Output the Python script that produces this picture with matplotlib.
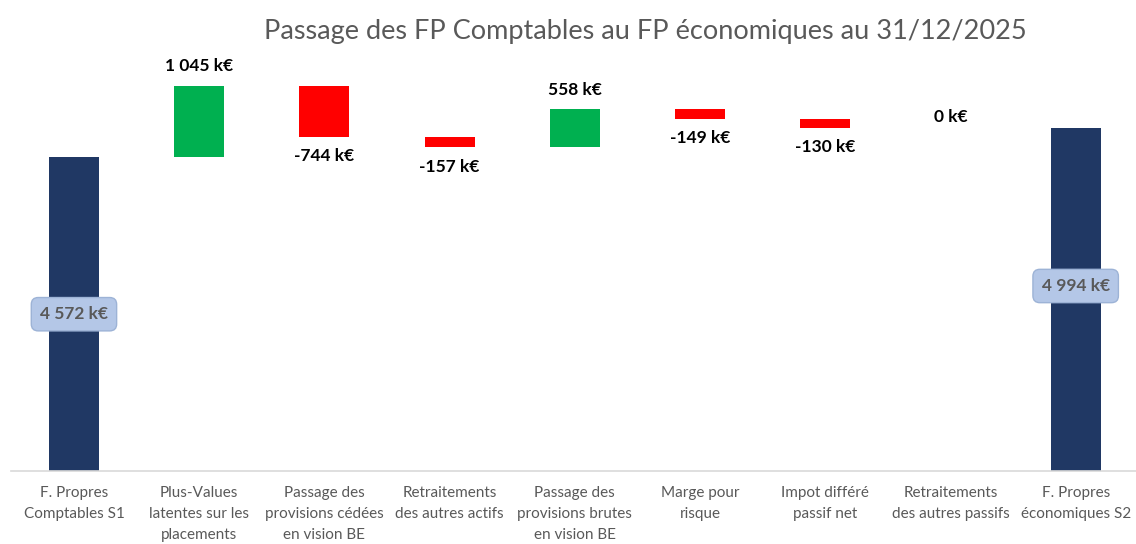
import matplotlib.pyplot as plt
import numpy as np

plt.rcParams["font.family"] = ["Lato", "DejaVu Sans"]

categories = [
    "F. Propres\nComptables S1",
    "Plus-Values\nlatentes sur les\nplacements",
    "Passage des\nprovisions cédées\nen vision BE",
    "Retraitements\ndes autres actifs",
    "Passage des\nprovisions brutes\nen vision BE",
    "Marge pour\nrisque",
    "Impot différé\npassif net",
    "Retraitements\ndes autres passifs",
    "F. Propres\néconomiques S2",
]
start_value = 4572
deltas = [1045, -744, -157, 558, -149, -130, 0]
end_value = 4994
title = "Passage des FP Comptables au FP économiques au 31/12/2025"

NAVY = "#203864"
GREEN = "#00B050"
RED = "#FF0000"
GREY = "#595959"


def fmt(v):
    s = "{:,}".format(abs(v)).replace(",", " ")
    return ("-" if v < 0 else "") + s + " k€"


fig = plt.figure(figsize=(11.36, 5.44), dpi=100)
ax = fig.add_axes([0.010, 0.134, 0.992, 0.757])

x = np.arange(len(categories))
width = 0.4

# totals
ax.bar([x[0], x[-1]], [start_value, end_value], width=width, color=NAVY)

# floating steps
cum = start_value + np.cumsum([0] + deltas[:-1])
for i, (base, d) in enumerate(zip(cum, deltas)):
    xi = x[i + 1]
    if d == 0:
        ax.annotate(fmt(d), (xi, base), xytext=(0, 2), textcoords="offset points",
                    ha="center", va="bottom", fontsize=12.5, fontweight="bold")
        continue
    color = GREEN if d > 0 else RED
    ax.bar(xi, d, bottom=base, width=width, color=color)
    if d > 0:
        ax.annotate(fmt(d), (xi, base + d), xytext=(0, 8), textcoords="offset points",
                    ha="center", va="bottom", fontsize=12.5, fontweight="bold")
    else:
        ax.annotate(fmt(d), (xi, base + d), xytext=(0, -8), textcoords="offset points",
                    ha="center", va="top", fontsize=12.5, fontweight="bold")

# boxed labels on the totals
box = dict(boxstyle="round,pad=0.5,rounding_size=0.4", fc="#B4C7E7", ec="#9DB3D6", lw=1)
ax.text(x[0], start_value * 0.5, fmt(start_value), ha="center", va="center",
        fontsize=12.5, fontweight="bold", color=GREY, bbox=box)
ax.text(x[-1], end_value * 0.5 + 200, fmt(end_value), ha="center", va="center",
        fontsize=12.5, fontweight="bold", color=GREY, bbox=box)

ax.set_xlim(-0.5, len(categories) - 0.5)
ax.set_ylim(0, 6000)
ax.set_xticks(x)
ax.set_xticklabels(categories, fontsize=11, color=GREY, linespacing=1.6, va="top")
ax.tick_params(axis="x", length=0, pad=11)
ax.set_yticks([])
for s in ["top", "left", "right"]:
    ax.spines[s].set_visible(False)
ax.spines["bottom"].set_color("#D9D9D9")
ax.spines["bottom"].set_linewidth(1.2)

fig.text(0.568, 0.943, title, ha="center", va="center", fontsize=19.5, color=GREY)

fig.savefig("out.png", dpi=100)
